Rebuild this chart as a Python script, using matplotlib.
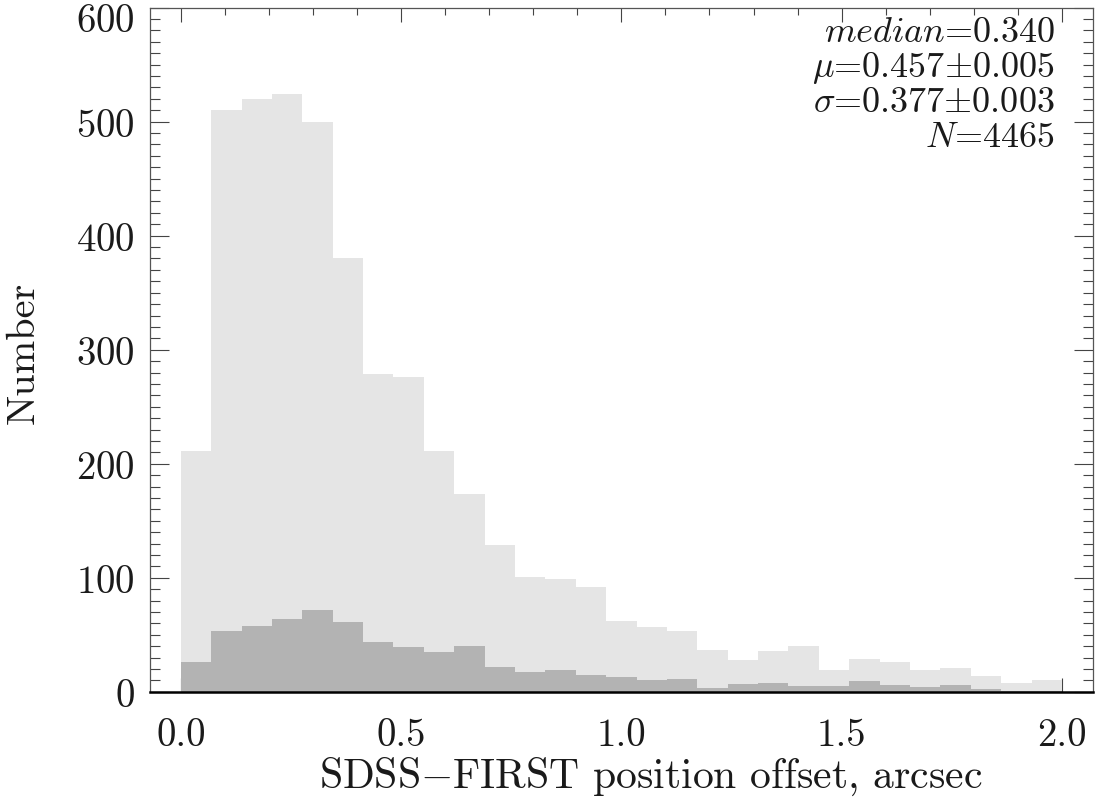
import numpy as np
import matplotlib.pyplot as plt
import matplotlib.transforms as mtransforms
from matplotlib.ticker import MultipleLocator, FormatStrFormatter

plt.rcParams['font.family'] = 'cmr10'
plt.rcParams['mathtext.fontset'] = 'cm'
plt.rcParams['axes.unicode_minus'] = False
plt.rcParams['axes.formatter.use_mathtext'] = True

# histogram: 29 bins between 0 and 2 arcsec
edges = np.linspace(0, 2, 30)
n_all = [211, 510, 520, 524, 500, 380, 279, 276, 211, 173, 129, 101, 99, 92,
         62, 57, 53, 37, 28, 36, 40, 19, 29, 26, 19, 21, 14, 8, 10]
n_sub = [26, 53, 58, 64, 72, 61, 44, 39, 35, 40, 22, 17, 19, 15,
         13, 10, 11, 3, 7, 8, 5, 5, 9, 6, 4, 6, 2, 1, 1]
stats = [r'$median$=0.340',
         r'$\mu$=0.457$\pm$0.005',
         r'$\sigma$=0.377$\pm$0.003',
         r'$N$=4465']

fig = plt.figure(figsize=(10.98, 8.04), dpi=100)
ax = fig.add_axes([0.1366, 0.1384, 0.8586, 0.8508])

ax.stairs(n_all, edges, fill=True, color='#e5e5e5', lw=0)
ax.stairs(n_sub, edges, fill=True, color='#b3b3b3', lw=0)

ax.set_xlim(-0.07, 2.07)
ax.set_ylim(0, 600)
ax.set_axisbelow(True)

ax.xaxis.set_major_locator(MultipleLocator(0.5))
ax.xaxis.set_minor_locator(MultipleLocator(0.1))
ax.xaxis.set_major_formatter(FormatStrFormatter('%.1f'))
ax.yaxis.set_major_locator(MultipleLocator(100))
ax.yaxis.set_minor_locator(MultipleLocator(10))

ax.tick_params(axis='both', which='both', direction='in', top=True, right=True,
               color='#444444', width=0.8, labelsize=28, labelcolor='#1a1a1a')
ax.tick_params(axis='x', which='major', length=10, pad=18)
ax.tick_params(axis='x', which='minor', length=5)
ax.tick_params(axis='y', which='major', length=13.5, pad=11)
ax.tick_params(axis='y', which='minor', length=7)

for s in ['left', 'right', 'top']:
    ax.spines[s].set_color('#555555')
    ax.spines[s].set_linewidth(0.9)
ax.spines['bottom'].set_color('black')
ax.spines['bottom'].set_linewidth(1.8)

ax.set_xlabel(r'SDSS$-$FIRST position offset, arcsec', fontsize=30, color='#1a1a1a')
ax.set_ylabel('Number', fontsize=29, color='#1a1a1a')
ax.xaxis.set_label_coords(0.531, -0.092)
ax.yaxis.set_label_coords(-0.115, 0.497)

# stats lines, one text per line, placed by baseline
y = 570.5
for s in stats:
    ax.text(1.984, y, s, ha='right', va='baseline', fontsize=26, color='#1a1a1a')
    y -= 30.5

# the top y label sits a bit below its tick so it stays inside the figure
fig.canvas.draw()
shift = mtransforms.ScaledTranslation(0, -9 / 100, fig.dpi_scale_trans)
for t in ax.yaxis.get_major_ticks():
    if abs(t.get_loc() - 600) < 1e-6:
        t.label1.set_transform(t.label1.get_transform() + shift)

fig.savefig('out.png', dpi=100)
